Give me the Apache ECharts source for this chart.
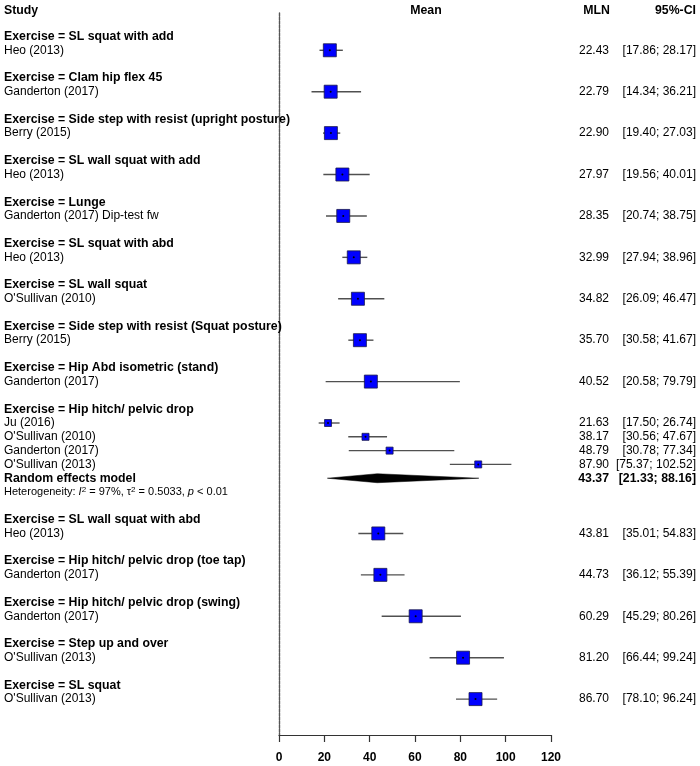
<!DOCTYPE html>
<html>
<head>
<meta charset="utf-8">
<script src="https://cdn.jsdelivr.net/npm/echarts@6/dist/echarts.min.js"></script>
<style>
  html, body { margin: 0; padding: 0; background: #fff; }
  #chart { width: 700px; height: 766px; }
</style>
</head>
<body>
<div id="chart"></div>
<script>
// subgroups (exercises), in display order
const exercises = [
  'SL squat with add', 'Clam hip flex 45', 'Side step with resist (upright posture)',
  'SL wall squat with add', 'Lunge', 'SL squat with abd', 'SL wall squat',
  'Side step with resist (Squat posture)', 'Hip Abd isometric (stand)', 'Hip hitch/ pelvic drop',
  'SL wall squat with abd', 'Hip hitch/ pelvic drop (toe tap)', 'Hip hitch/ pelvic drop (swing)',
  'Step up and over', 'SL squat'
];

// one entry per study
const studies = [
  'Heo (2013)', 'Ganderton (2017)', 'Berry (2015)', 'Heo (2013)', 'Ganderton (2017) Dip-test fw',
  'Heo (2013)', "O'Sullivan (2010)", 'Berry (2015)', 'Ganderton (2017)',
  'Ju (2016)', "O'Sullivan (2010)", 'Ganderton (2017)', "O'Sullivan (2013)",
  'Heo (2013)', 'Ganderton (2017)', 'Ganderton (2017)', "O'Sullivan (2013)", "O'Sullivan (2013)"
];
const studyGroup = [0, 1, 2, 3, 4, 5, 6, 7, 8, 9, 9, 9, 9, 10, 11, 12, 13, 14];
const mln   = [22.43, 22.79, 22.90, 27.97, 28.35, 32.99, 34.82, 35.70, 40.52, 21.63, 38.17, 48.79, 87.90, 43.81, 44.73, 60.29, 81.20, 86.70];
const lower = [17.86, 14.34, 19.40, 19.56, 20.74, 27.94, 26.09, 30.58, 20.58, 17.50, 30.56, 30.78, 75.37, 35.01, 36.12, 45.29, 66.44, 78.10];
const upper = [28.17, 36.21, 27.03, 40.01, 38.75, 38.96, 46.47, 41.67, 79.79, 26.74, 47.67, 77.34, 102.52, 54.83, 55.39, 80.26, 99.24, 96.24];

// pooled estimate for the one subgroup with several studies
const pooledGroup = 9;
const pooledEst = [43.37, 21.33, 88.16]; // mean, lower, upper
const hetI2 = '97%', hetTau2 = '0.5033', hetP = '< 0.01';

const xTicks = [0, 20, 40, 60, 80, 100, 120];

// build the row layout (row index = y value)
const rows = [];
exercises.forEach((ex, g) => {
  if (g > 0) rows.push({ type: 'blank' });
  rows.push({ type: 'header', text: ex });
  studies.forEach((s, i) => {
    if (studyGroup[i] === g) rows.push({ type: 'study', text: s, i: i });
  });
  if (g === pooledGroup) {
    rows.push({ type: 'pooled' });
    rows.push({ type: 'het' });
  }
});

const groupCount = {};
studyGroup.forEach(g => { groupCount[g] = (groupCount[g] || 0) + 1; });

const squareData = [], ciData = [], dotData = [], diamondData = [];
rows.forEach((r, k) => {
  if (r.type === 'study') {
    const i = r.i;
    squareData.push({ value: [mln[i], k], symbolSize: groupCount[studyGroup[i]] > 1 ? 7 : 13 });
    ciData.push([lower[i], upper[i], k]);
    dotData.push([mln[i], k]);
  } else if (r.type === 'pooled') {
    diamondData.push([pooledEst[1], pooledEst[0], pooledEst[2], k]);
  }
});

const labelRows = rows.map((r, k) => k).filter(k => rows[k].type !== 'blank');
const FONT = '"Liberation Sans", Arial, sans-serif';

function leftLabel(v) {
  const r = rows[Math.round(v)];
  if (!r) return '';
  if (r.type === 'header') return '{h|Exercise = ' + r.text + '}';
  if (r.type === 'study') return '{s|' + r.text + '}';
  if (r.type === 'pooled') return '{h|Random effects model}';
  if (r.type === 'het') return '{t|Heterogeneity: }{ti|I}{sup|2}{t| = ' + hetI2 + ', τ}{sup|2}{t| = ' + hetTau2 + ', }{ti|p}{t| ' + hetP + '}';
  return '';
}
function mlnLabel(v) {
  const r = rows[Math.round(v)];
  if (!r) return '';
  if (r.type === 'study') return '{s|' + mln[r.i].toFixed(2) + '}';
  if (r.type === 'pooled') return '{h|' + pooledEst[0].toFixed(2) + '}';
  return '';
}
function ciLabel(v) {
  const r = rows[Math.round(v)];
  if (!r) return '';
  if (r.type === 'study') return '{s|[' + lower[r.i].toFixed(2) + '; ' + upper[r.i].toFixed(2) + ']}';
  if (r.type === 'pooled') return '{h|[' + pooledEst[1].toFixed(2) + '; ' + pooledEst[2].toFixed(2) + ']}';
  return '';
}
const rich = {
  h: { fontFamily: FONT, fontSize: 12.3, fontWeight: 'bold', color: '#000' },
  s: { fontFamily: FONT, fontSize: 12, color: '#000' },
  t: { fontFamily: FONT, fontSize: 11, color: '#000', lineHeight: 13 },
  ti: { fontFamily: FONT, fontSize: 11, fontStyle: 'italic', color: '#000', lineHeight: 13 },
  sup: { fontFamily: FONT, fontSize: 8, color: '#000', verticalAlign: 'top', lineHeight: 9 }
};

// row axis range: a little room above the first row and below the last one
const yMin = -1.7, yMax = 50.6;

function rowAxis(pos, margin, align, fmt, showLine) {
  return {
    type: 'value', min: yMin, max: yMax, inverse: true, position: pos,
    axisLine: { show: showLine, onZero: false, lineStyle: { color: '#555', width: 1.4, type: [3, 1] } },
    axisTick: { show: false },
    splitLine: { show: false },
    axisLabel: { customValues: labelRows, align: align, margin: margin, formatter: fmt, rich: rich }
  };
}

const chart = echarts.init(document.getElementById('chart'));
chart.setOption({
  animation: false,
  backgroundColor: '#fff',
  grid: { left: 279, right: 149, top: 13, bottom: 31 },
  graphic: [
    { type: 'text', x: 4, y: 11, style: { text: 'Study', font: 'bold 12.3px ' + FONT, fill: '#000', textAlign: 'left', textVerticalAlign: 'middle' } },
    { type: 'text', x: 426, y: 11, style: { text: 'Mean', font: 'bold 12.3px ' + FONT, fill: '#000', textAlign: 'center', textVerticalAlign: 'middle' } },
    { type: 'text', x: 610, y: 11, style: { text: 'MLN', font: 'bold 12.3px ' + FONT, fill: '#000', textAlign: 'right', textVerticalAlign: 'middle' } },
    { type: 'text', x: 696, y: 11, style: { text: '95%-CI', font: 'bold 12.3px ' + FONT, fill: '#000', textAlign: 'right', textVerticalAlign: 'middle' } }
  ],
  xAxis: {
    type: 'value', min: xTicks[0], max: xTicks[xTicks.length - 1], interval: 20,
    axisLine: { show: true, onZero: false, lineStyle: { color: '#333', width: 1.2 } },
    axisTick: { show: true, length: 7, lineStyle: { color: '#333', width: 1.2 } },
    axisLabel: { margin: 17, color: '#000', fontFamily: FONT, fontSize: 12, fontWeight: 'bold' },
    splitLine: { show: false }
  },
  yAxis: [
    rowAxis('left', 275, 'left', leftLabel, true),
    rowAxis('right', 58, 'right', mlnLabel, false),
    rowAxis('right', 145, 'right', ciLabel, false)
  ],
  series: [
    {
      type: 'custom', name: 'CI', z: 1,
      encode: { x: [0, 1], y: 2 },
      data: ciData,
      renderItem: function (params, api) {
        const a = api.coord([api.value(0), api.value(2)]);
        const b = api.coord([api.value(1), api.value(2)]);
        return { type: 'line', shape: { x1: a[0], y1: a[1], x2: b[0], y2: b[1] }, style: { stroke: '#505050', lineWidth: 1.4 } };
      }
    },
    {
      type: 'scatter', name: 'MLN', z: 2, symbol: 'rect',
      data: squareData,
      itemStyle: { color: '#0000ff', borderColor: '#1a1a4a', borderWidth: 0.8, opacity: 1 }
    },
    {
      type: 'scatter', name: 'point', z: 3, symbol: 'circle', symbolSize: 2,
      data: dotData,
      itemStyle: { color: '#000', opacity: 1 }
    },
    {
      type: 'custom', name: 'Random effects model', z: 3,
      encode: { x: [0, 1, 2], y: 3 },
      data: diamondData,
      renderItem: function (params, api) {
        const row = api.value(3);
        const l = api.coord([api.value(0), row]);
        const m = api.coord([api.value(1), row]);
        const r = api.coord([api.value(2), row]);
        const h = 4.5;
        return {
          type: 'polygon',
          shape: { points: [[l[0], l[1]], [m[0], m[1] - h], [r[0], r[1]], [m[0], m[1] + h]] },
          style: { fill: '#000', stroke: '#000', lineWidth: 0.5 }
        };
      }
    }
  ]
});
</script>
</body>
</html>
